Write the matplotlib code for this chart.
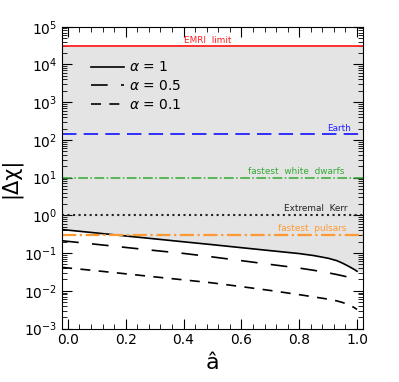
import numpy as np
import matplotlib
matplotlib.use("Agg")
import matplotlib.pyplot as plt

# spin grid and |delta chi| curves
a_hat = [-0.02, 0.1, 0.2, 0.3, 0.4, 0.5, 0.6, 0.7, 0.8, 0.85, 0.9, 0.93, 0.95, 0.97, 0.99, 1.0]
dchi_a1 = [0.42, 0.340, 0.284, 0.238, 0.199, 0.167, 0.139, 0.116, 0.097, 0.086, 0.073, 0.063, 0.054, 0.045, 0.037, 0.033]
dchi_a05 = [0.212, 0.170, 0.141, 0.117, 0.098, 0.079, 0.063, 0.050, 0.040, 0.035, 0.030, 0.027, 0.025, 0.023, 0.0205, 0.0195]
dchi_a01 = [0.0418, 0.0339, 0.0282, 0.0234, 0.0195, 0.0162, 0.0129, 0.0102, 0.0079, 0.0069, 0.0060, 0.0054, 0.0049, 0.0043, 0.0036, 0.0032]

# reference levels
levels = [3e4, 140, 10, 1, 0.3]
level_names = ["EMRI  limit", "Earth", "fastest  white  dwarfs", "Extremal  Kerr", "fastest  pulsars"]
level_colors = ["#ff2020", "#2020ff", "#33aa33", "#222222", "#ff9933"]
text_x = [0.4, 0.98, 0.955, 0.968, 0.962]

fig, ax = plt.subplots(figsize=(3.99, 3.82), dpi=100)
fig.subplots_adjust(left=0.155, right=0.91, top=0.93, bottom=0.14)

# shaded region between alpha=1 curve and EMRI limit
xf = a_hat + [1.03]
yf = dchi_a1 + [dchi_a1[-1]]
ax.fill_between(xf, yf, levels[0], color="#e4e4e4", lw=0, zorder=0)

ax.plot(a_hat, dchi_a1, color="k", lw=1.2, label=r"$\alpha$ = 1")
ax.plot(a_hat, dchi_a05, color="k", lw=1.2, dashes=(10, 8), label=r"$\alpha$ = 0.5")
ax.plot(a_hat, dchi_a01, color="k", lw=1.2, dashes=(6, 5), label=r"$\alpha$ = 0.1")

ax.axhline(levels[0], color=level_colors[0], lw=1.3)
ax.axhline(levels[1], color=level_colors[1], lw=1.3, dashes=(8, 4))
ax.axhline(levels[2], color=level_colors[2], lw=1.1, ls="-.")
ax.axhline(levels[3], color=level_colors[3], lw=1.5, ls=":")
ax.axhline(levels[4], color=level_colors[4], lw=1.6, ls="-.")

for i in range(len(levels)):
    ha = "left" if i == 0 else "right"
    ax.text(text_x[i], levels[i] * 1.12, level_names[i], color=level_colors[i],
            fontsize=6.4, ha=ha, va="bottom")

ax.set_yscale("log")
ax.set_xlim(-0.021, 1.021)
ax.set_ylim(1e-3, 1e5)
ax.set_xticks([0.0, 0.2, 0.4, 0.6, 0.8, 1.0])
ax.set_xticks(np.arange(0, 1.01, 0.04), minor=True)
ax.tick_params(which="both", direction="in", top=True, right=True, labelsize=10)
ax.tick_params(which="major", length=7)
ax.tick_params(which="minor", length=3.5)

ax.set_xlabel("â", fontsize=16)
ax.set_ylabel("|Δχ|", fontsize=15, labelpad=2)

ax.legend(loc="upper left", bbox_to_anchor=(0.055, 0.93), frameon=False, fontsize=10,
          handlelength=2.4, handletextpad=0.35, labelspacing=0.35)

fig.savefig("out.png", dpi=100)
